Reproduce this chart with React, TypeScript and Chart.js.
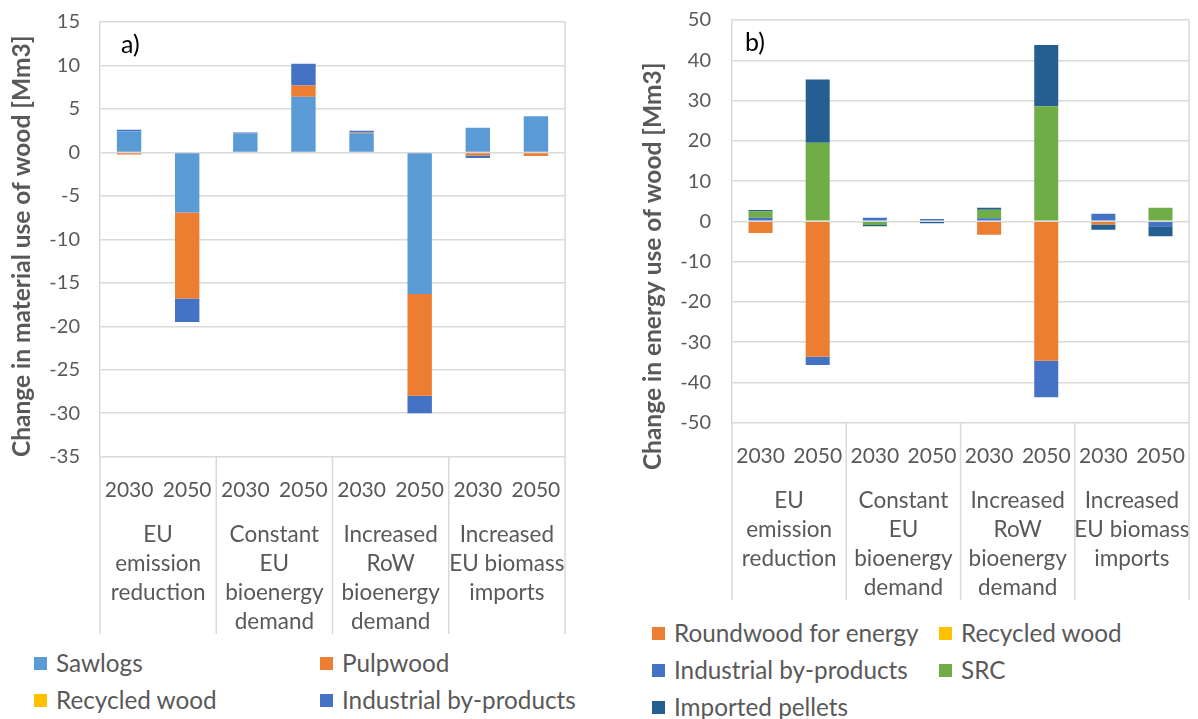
import React, { useEffect, useRef } from 'react';
import { Chart, registerables } from 'chart.js';

Chart.register(...registerables);

// ---------- shared categories ----------
const years = ['2030', '2050', '2030', '2050', '2030', '2050', '2030', '2050'];
const scenarios = [
  ['EU', 'emission', 'reduction'],
  ['Constant', 'EU', 'bioenergy', 'demand'],
  ['Increased', 'RoW', 'bioenergy', 'demand'],
  ['Increased', 'EU biomass', 'imports'],
];

// ---------- panel a: material use of wood [Mm3] ----------
const sawlogs = [2.4, -6.9, 2.2, 6.4, 2.2, -16.3, 2.85, 4.15];
const pulpwood = [-0.25, -9.9, 0, 1.3, 0.1, -11.7, -0.35, -0.4];
const recycledA = [0, 0, 0, 0, 0, 0, 0, 0];
const industrialA = [0.2, -2.7, 0.1, 2.5, 0.2, -2.0, -0.3, 0];
const yTicksA = { min: -35, max: 15, step: 5 };

// ---------- panel b: energy use of wood [Mm3] ----------
const roundwood = [-2.9, -33.6, 0, 0, -3.3, -34.6, -0.8, 0];
const recycledB = [0, 0, 0, 0, 0, 0, 0, 0];
const industrialB = [0.9, -2.1, 0.9, 0.6, 0.8, -9.1, 1.9, -1.2];
const src = [1.6, 19.5, -0.9, 0, 2.1, 28.6, 0, 3.4];
const pellets = [0.3, 15.7, -0.3, -0.5, 0.5, 15.2, -1.3, -2.5];
const yTicksB = { min: -50, max: 50, step: 10 };

const C = {
  sawlogs: '#5B9BD5',
  pulpwood: '#ED7D31',
  recycled: '#FFC000',
  industrial: '#4472C4',
  src: '#70AD47',
  pellets: '#255E91',
};

const FONT = 'Lato, "Open Sans", sans-serif';
const GRAY = '#595959';
const GRID = '#d9d9d9';

// y-axis titles are drawn centred along the axis, shifted downwards by `shift` px
function makeTitlePlugin(text: string, shift: number, offsetX: number) {
  return {
    id: 'shiftedYTitle',
    afterDraw(chart: any) {
      const { ctx, chartArea, scales } = chart;
      const y = scales.y;
      ctx.save();
      ctx.translate(y.left + offsetX, (chartArea.top + chartArea.bottom) / 2 + shift);
      ctx.rotate(-Math.PI / 2);
      ctx.fillStyle = GRAY;
      ctx.font = `bold 24.5px ${FONT}`;
      ctx.textAlign = 'center';
      ctx.textBaseline = 'middle';
      ctx.fillText(text, 0, 0);
      ctx.restore();
    },
  };
}

const separators = {
  id: 'groupSeparators',
  afterDraw(chart: any) {
    const { ctx, chartArea, scales } = chart;
    const x = scales.x;
    const x2 = scales.x2;
    const n = chart.data.labels.length;
    ctx.save();
    ctx.strokeStyle = GRID;
    ctx.lineWidth = 1.5;
    ctx.beginPath();
    ctx.moveTo(chartArea.right, chartArea.top);
    ctx.lineTo(chartArea.right, chartArea.bottom);
    ctx.stroke();
    for (let g = 0; g <= n; g += 2) {
      let px: number;
      if (g === 0) px = chartArea.left;
      else if (g === n) px = chartArea.right;
      else px = (x.getPixelForValue(g - 1) + x.getPixelForValue(g)) / 2;
      ctx.beginPath();
      ctx.moveTo(px, chartArea.bottom);
      ctx.lineTo(px, x2.bottom + 2);
      ctx.stroke();
    }
    ctx.restore();
  },
};

function makeDataset(label: string, data: number[], color: string) {
  return {
    label,
    data,
    backgroundColor: color,
    borderWidth: 0,
    barPercentage: 0.42,
    categoryPercentage: 1,
  };
}

function makeConfig(
  datasets: any[],
  yt: { min: number; max: number; step: number },
  title: string,
  yWidth: number,
  rightPad: number,
  tickPad: number,
  tickLen: number,
  titleX: number,
  titleShift: number,
) {
  return {
    type: 'bar',
    data: { labels: years, datasets },
    plugins: [separators, makeTitlePlugin(title, titleShift, titleX)],
    options: {
      responsive: false,
      animation: false,
      layout: { padding: { top: 0, right: rightPad, bottom: 8, left: 0 } },
      plugins: { legend: { display: false }, tooltip: { enabled: false } },
      scales: {
        x: {
          stacked: true,
          offset: true,
          grid: { display: false },
          border: { display: false },
          ticks: { color: GRAY, font: { family: FONT, size: 21 }, padding: 13, maxRotation: 0, autoSkip: false },
        },
        x2: {
          type: 'category',
          labels: scenarios,
          offset: true,
          position: 'bottom',
          grid: { display: false },
          border: { display: false },
          ticks: { color: GRAY, font: { family: FONT, size: 22.5, lineHeight: 1.29 }, padding: -4, maxRotation: 0, autoSkip: false },
        },
        y: {
          stacked: true,
          min: yt.min,
          max: yt.max,
          ticks: { stepSize: yt.step, color: GRAY, font: { family: FONT, size: 20 }, padding: tickPad },
          grid: { color: GRID, lineWidth: 1.5, drawTicks: true, tickLength: tickLen, tickColor: 'rgba(0,0,0,0)' },
          border: { display: true, color: GRID, width: 1.5 },
          afterFit: (s: any) => { s.width = yWidth; },
        },
      },
    },
  };
}

function ChartCanvas({ config, width, height }: { config: any; width: number; height: number }) {
  const ref = useRef<HTMLCanvasElement>(null);
  useEffect(() => {
    if (!ref.current) return;
    const chart = new Chart(ref.current, config);
    return () => chart.destroy();
  }, [config]);
  return <canvas ref={ref} width={width} height={height} style={{ display: 'block' }} />;
}

function LegendItem({ color, text, left, top }: { color: string; text: string; left: number; top: number }) {
  return (
    <div style={{ position: 'absolute', left, top, display: 'flex', alignItems: 'center', whiteSpace: 'nowrap' }}>
      <span style={{ width: 13, height: 13, background: color, display: 'inline-block', marginRight: 9 }} />
      <span style={{ fontFamily: FONT, fontSize: 24.3, color: GRAY, lineHeight: '26px' }}>{text}</span>
    </div>
  );
}

const configA = makeConfig(
  [
    makeDataset('Sawlogs', sawlogs, C.sawlogs),
    makeDataset('Pulpwood', pulpwood, C.pulpwood),
    makeDataset('Recycled wood', recycledA, C.recycled),
    makeDataset('Industrial by-products', industrialA, C.industrial),
  ],
  yTicksA,
  'Change in material use of wood [Mm3]',
  100,
  35,
  10,
  10,
  22,
  7,
);

const configB = makeConfig(
  [
    makeDataset('Roundwood for energy', roundwood, C.pulpwood),
    makeDataset('Recycled wood', recycledB, C.recycled),
    makeDataset('Industrial by-products', industrialB, C.industrial),
    makeDataset('SRC', src, C.src),
    makeDataset('Imported pellets', pellets, C.pellets),
  ],
  yTicksB,
  'Change in energy use of wood [Mm3]',
  132,
  2,
  8,
  13,
  53,
  45,
);

export default function App() {
  return (
    <div style={{ position: 'absolute', left: 0, top: 0, width: 1198, height: 719, background: '#fff', overflow: 'hidden' }}>
      <div style={{ position: 'absolute', left: 0, top: 0 }}>
        <ChartCanvas config={configA} width={600} height={640} />
      </div>
      <div style={{ position: 'absolute', left: 121, top: 28, fontFamily: FONT, fontSize: 25, color: '#000' }}>a)</div>
      <LegendItem color={C.sawlogs} text="Sawlogs" left={34} top={650} />
      <LegendItem color={C.pulpwood} text="Pulpwood" left={320} top={650} />
      <LegendItem color={C.recycled} text="Recycled wood" left={34} top={687} />
      <LegendItem color={C.industrial} text="Industrial by-products" left={320} top={687} />

      <div style={{ position: 'absolute', left: 600, top: 0 }}>
        <ChartCanvas config={configB} width={598} height={606} />
      </div>
      <div style={{ position: 'absolute', left: 745, top: 26, fontFamily: FONT, fontSize: 25, color: '#000' }}>b)</div>
      <LegendItem color={C.pulpwood} text="Roundwood for energy" left={652} top={620} />
      <LegendItem color={C.recycled} text="Recycled wood" left={939} top={620} />
      <LegendItem color={C.industrial} text="Industrial by-products" left={652} top={657} />
      <LegendItem color={C.src} text="SRC" left={939} top={657} />
      <LegendItem color={C.pellets} text="Imported pellets" left={652} top={694} />
    </div>
  );
}
